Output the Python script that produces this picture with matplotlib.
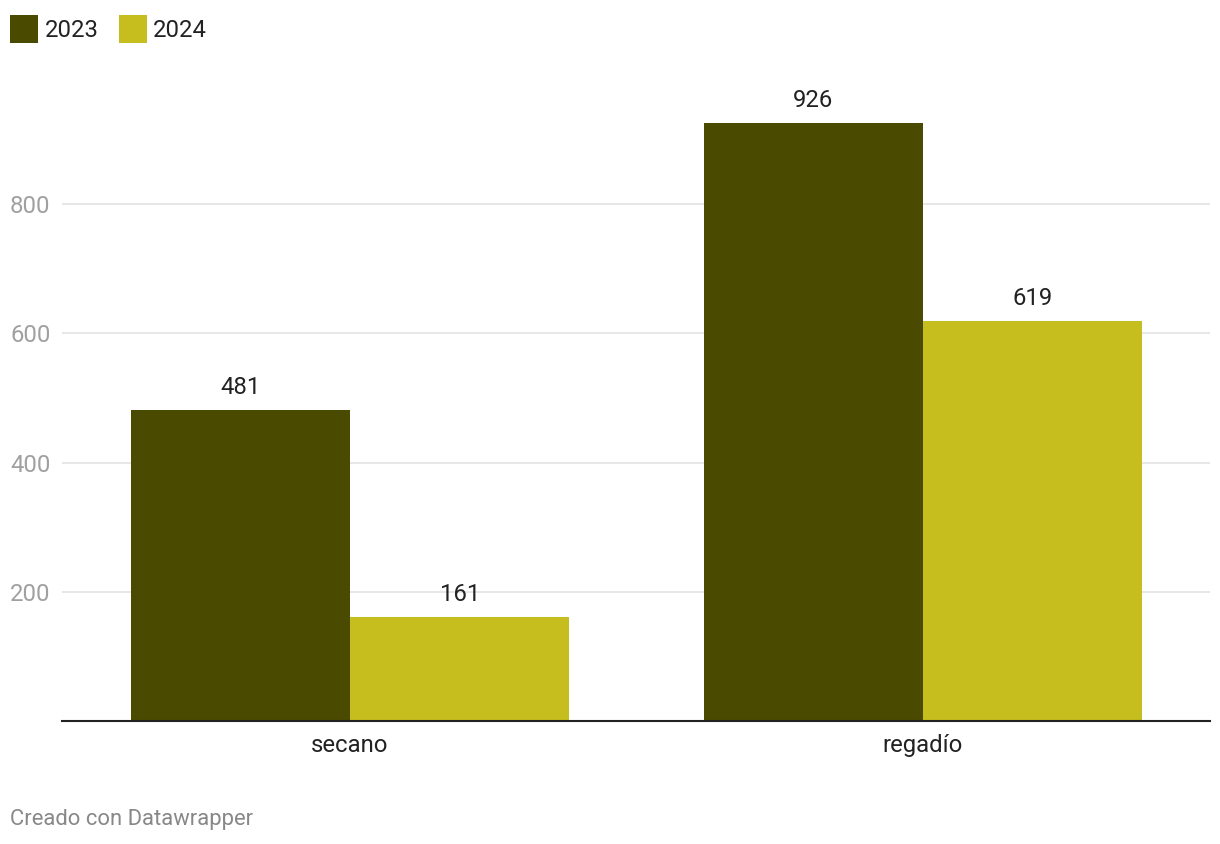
import matplotlib
matplotlib.use("Agg")
import matplotlib.pyplot as plt
import numpy as np

categories = ["secano", "regadío"]
series_names = ["2023", "2024"]
values_2023 = [481, 926]
values_2024 = [161, 619]
yticks = [200, 400, 600, 800]
colors = ["#4a4a00", "#c5be1e"]

plt.rcParams['font.family'] = ['Roboto', 'DejaVu Sans']

W, H = 1220, 844
fig = plt.figure(figsize=(W / 100, H / 100), dpi=100)

def fx(px):
    return px / W

def fy(py):
    return (H - py) / H

FS = 17.2

ax_left, ax_right, ax_bottom, ax_top = 62, 1210, 721, 90
ax = fig.add_axes([fx(ax_left), fy(ax_bottom), fx(ax_right - ax_left), fy(ax_top) - fy(ax_bottom)])

px_per_unit = (721 - 204) / 800
ymax = (ax_bottom - ax_top) / px_per_unit

x = np.arange(len(categories))
w = 0.383
b1 = ax.bar(x - w / 2, values_2023, width=w, color=colors[0], label=series_names[0], zorder=2)
b2 = ax.bar(x + w / 2, values_2024, width=w, color=colors[1], label=series_names[1], zorder=2)

for bars, vals in ((b1, values_2023), (b2, values_2024)):
    for rect, v in zip(bars, vals):
        ax.annotate(f"{v}", (rect.get_x() + rect.get_width() / 2, v),
                    xytext=(0, 11.5), textcoords="offset points",
                    ha="center", va="baseline", fontsize=FS, color="#222222", zorder=3)

ax.set_xlim(-0.5026, 1.5009)
ax.set_ylim(0, ymax)

ax.set_yticks(yticks)
ax.set_yticklabels([str(t) for t in yticks], fontsize=FS, color="#a0a0a0")
for lab in ax.get_yticklabels():
    lab.set_horizontalalignment("left")
ax.tick_params(axis="y", length=0, pad=(ax_left - 10) * 0.72)
ax.grid(axis="y", color="#e3e3e3", linewidth=1.2, zorder=0)

ax.set_xticks(x)
ax.set_xticklabels(categories, fontsize=FS, color="#222222")
ax.tick_params(axis="x", length=0, pad=9.5)

for s in ("top", "right", "left"):
    ax.spines[s].set_visible(False)
ax.spines["bottom"].set_color("#222222")
ax.spines["bottom"].set_linewidth(1.5)
ax.spines["bottom"].set_zorder(4)

fig.legend(handles=[b1, b2], labels=series_names, loc="upper left",
           bbox_to_anchor=(fx(5), fy(10)), ncol=2, frameon=False,
           fontsize=FS, handlelength=1.2, handleheight=1.45,
           handletextpad=0.25, columnspacing=0.85, borderaxespad=0,
           borderpad=0.2, labelcolor="#222222")

fig.text(fx(10), fy(825), "Creado con Datawrapper", fontsize=15.8, color="#888888",
         ha="left", va="baseline")

fig.savefig("out.png", dpi=100)
